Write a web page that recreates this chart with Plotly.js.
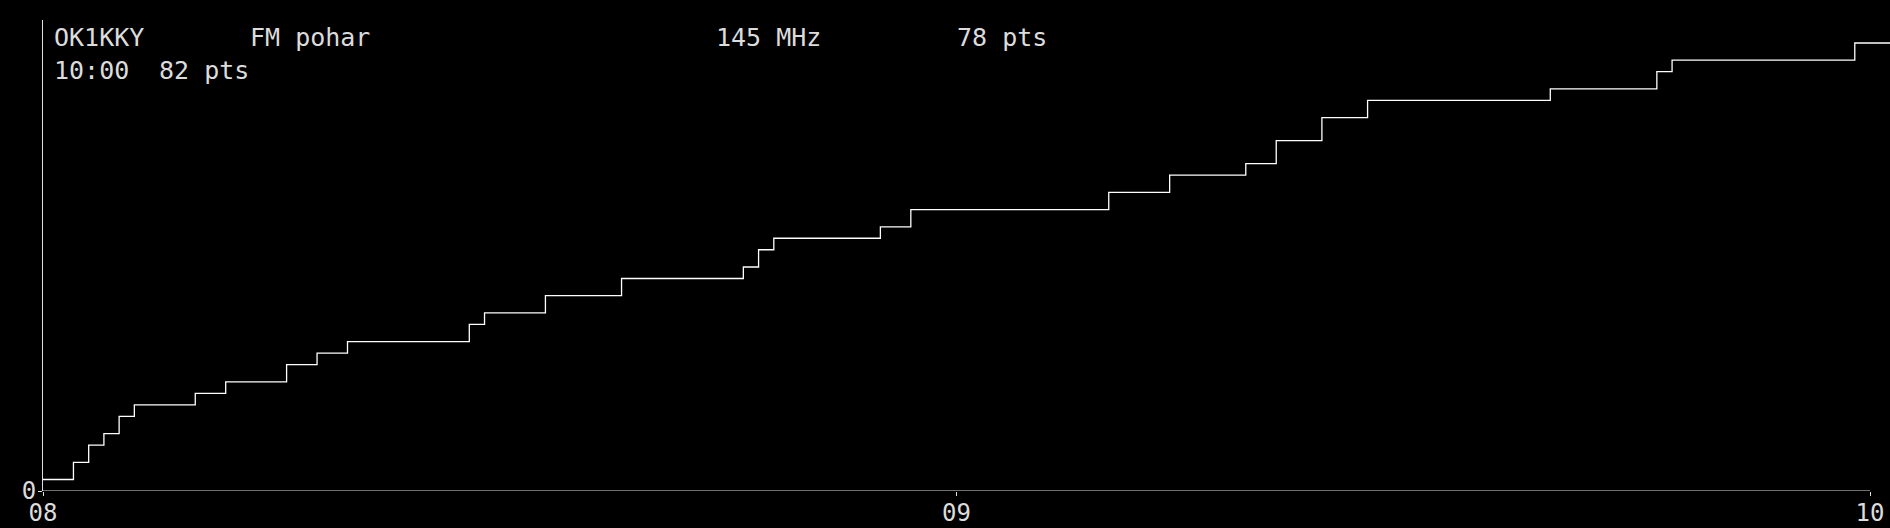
<!DOCTYPE html>
<html>
<head>
<meta charset="utf-8">
<script src="https://cdn.plot.ly/plotly-3.0.1.min.js"></script>
<style>
  html, body { margin: 0; padding: 0; background: #000; }
  #chart { width: 1890px; height: 528px; }
</style>
</head>
<body>
<div id="chart"></div>
<script>
/*** DATA ***/
// the contest day (date itself is not shown, only hours)
const day = '2024-01-01';

// time of each QSO (HH:MM) and the running score after it
const qso_times = ['08:00', '08:02', '08:03', '08:04', '08:05', '08:06', '08:10', '08:12',
    '08:16', '08:18', '08:20', '08:28', '08:29', '08:33', '08:38', '08:46', '08:47', '08:48',
    '08:55', '08:57', '09:10', '09:14', '09:19', '09:21', '09:24', '09:27', '09:39', '09:46',
    '09:47', '09:59', '10:02'];
const qso_score = [2, 5, 8, 10, 13, 15, 17, 19,
    22, 24, 26, 29, 31, 34, 37, 39, 42, 44,
    46, 49, 52, 55, 57, 61, 65, 68, 70, 73,
    75, 78, 78];

// header texts, row by row
const header_row1 = ['OK1KKY', 'FM pohar', '145 MHz', '78 pts'];
const header_row2 = ['10:00', '82 pts'];

// axis
const x_start = '08:00';
const x_end = '10:00';
const y_max = 82;
const tick_labels = ['08', '09', '10'];


/*** LAYOUT HELPERS ***/
const W = 1890, H = 528;
const M = { l: 43, r: 0, t: 20, b: 37 };

// pixel -> paper coordinates
function px(x) { return (x - M.l) / (W - M.l - M.r); }
function py(y) { return 1 - (y - M.t) / (H - M.t - M.b); }

const mono = 'DejaVu Sans Mono, monospace';
const text_color = '#dcdcdc';
const char_w = 15.05;   // one column of the header

function header_annotations(row, cols, top) {
    return row.map((txt, i) => ({
        text: txt,
        xref: 'paper', yref: 'paper',
        x: px(52 + cols[i] * char_w), y: py(top),
        xanchor: 'left', yanchor: 'top',
        showarrow: false,
        font: { family: mono, size: 25, color: text_color }
    }));
}

// right edge of the plot area is beyond 10:00 (the line runs on to the edge)
const px_per_min = (1870 - M.l) / 120;
const extra_min = (W - 1870) / px_per_min;
const range_end = new Date(Date.parse(day + 'T' + x_end + ':00Z') + extra_min * 60000)
    .toISOString().replace('T', ' ').replace('Z', '');

/*** PLOT ***/
const trace = {
    x: qso_times.map(t => day + ' ' + t),
    y: qso_score,
    type: 'scatter',
    mode: 'lines',
    line: { shape: 'hv', color: '#ffffff', width: 1.3 },
    hoverinfo: 'skip'
};

const layout = {
    width: W,
    height: H,
    margin: M,
    paper_bgcolor: '#000',
    plot_bgcolor: '#000',
    showlegend: false,
    xaxis: {
        type: 'date',
        range: [day + ' ' + x_start, range_end],
        tickvals: tick_labels.map(h => day + ' ' + h + ':00'),
        ticktext: tick_labels,
        ticks: 'outside',
        ticklen: 4,
        tickcolor: '#e0e0e0',
        ticklabelstandoff: -4,
        showline: false,
        showgrid: false,
        zeroline: false,
        tickfont: { family: mono, size: 24, color: text_color }
    },
    yaxis: {
        range: [0, y_max],
        tickvals: [0],
        ticktext: ['0'],
        ticks: 'outside',
        ticklen: 4,
        tickcolor: '#e0e0e0',
        ticklabelstandoff: -3,
        showline: true,
        linecolor: '#e0e0e0',
        linewidth: 1,
        showgrid: false,
        zeroline: false,
        tickfont: { family: mono, size: 24, color: text_color }
    },
    // x axis line only reaches 10:00
    shapes: [{
        type: 'line', xref: 'x', yref: 'y',
        x0: day + ' ' + x_start, x1: day + ' ' + x_end, y0: 0, y1: 0,
        line: { color: '#e0e0e0', width: 1 }
    }],
    annotations: header_annotations(header_row1, [0, 13, 44, 60], 20.5)
        .concat(header_annotations(header_row2, [0, 7], 54))
};

Plotly.newPlot('chart', [trace], layout, { staticPlot: true });
</script>
</body>
</html>
